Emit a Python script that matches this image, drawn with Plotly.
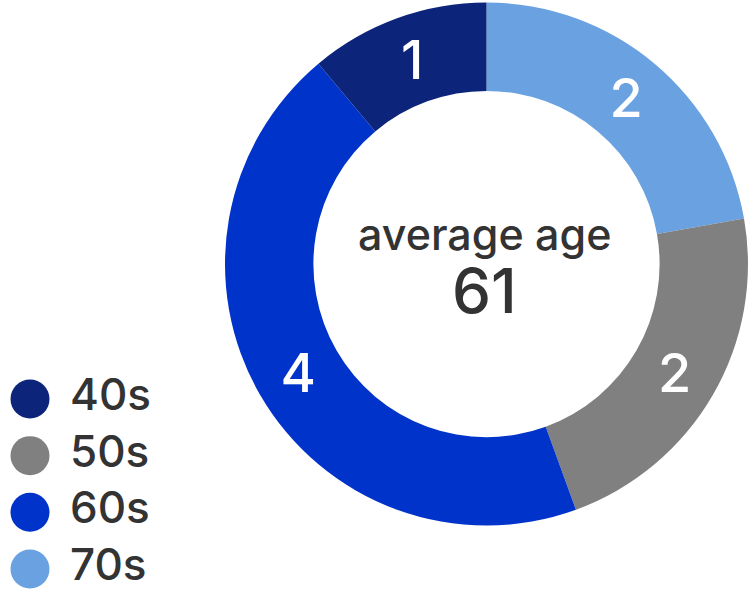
import plotly.graph_objects as go

# age groups as shown in the legend (top to bottom)
age_groups = ["40s", "50s", "60s", "70s"]
members = [1, 2, 4, 2]
group_colors = ["#0c247a", "#808080", "#0033c9", "#69a1e1"]

# slices are drawn clockwise from 12 o'clock in this order
slice_order = ["70s", "50s", "60s", "40s"]

average_label = "average age"
average_age = 61

TEXT = "#333333"
FONT = "Inter"

lookup = {g: (v, c) for g, v, c in zip(age_groups, members, group_colors)}

fig = go.Figure()

fig.add_trace(go.Pie(
    labels=slice_order,
    values=[lookup[g][0] for g in slice_order],
    marker=dict(colors=[lookup[g][1] for g in slice_order], line=dict(width=0)),
    hole=0.662,
    sort=False,
    direction="clockwise",
    rotation=0,
    textinfo="value",
    textposition="inside",
    insidetextorientation="horizontal",
    textfont=dict(family=FONT, size=54, color="white", weight=500),
    domain=dict(x=[0.2996, 0.996], y=[0.1256, 0.9958]),
    showlegend=False,
    hoverinfo="label+value",
))

# legend drawn as big dots on a hidden axis
fig.add_trace(go.Scatter(
    x=[0] * len(age_groups),
    y=age_groups,
    mode="markers",
    marker=dict(size=39, color=group_colors, line=dict(width=0)),
    showlegend=False,
    hoverinfo="skip",
))
fig.add_trace(go.Scatter(
    x=[40] * len(age_groups),
    y=age_groups,
    mode="text",
    text=age_groups,
    textposition="middle right",
    textfont=dict(family=FONT, size=44, color=TEXT, weight=500),
    showlegend=False,
    hoverinfo="skip",
))

fig.add_annotation(
    x=0.6445, y=0.6106, xref="paper", yref="paper",
    text=average_label, showarrow=False,
    xanchor="center", yanchor="middle",
    font=dict(family=FONT, size=43, color=TEXT, weight=500),
)
fig.add_annotation(
    x=0.6445, y=0.516, xref="paper", yref="paper",
    text=str(average_age), showarrow=False,
    xanchor="center", yanchor="middle",
    font=dict(family=FONT, size=62, color=TEXT, weight=500),
)

fig.update_layout(
    width=751, height=601,
    margin=dict(l=0, r=0, t=0, b=0),
    paper_bgcolor="white",
    plot_bgcolor="rgba(0,0,0,0)",
    xaxis=dict(visible=False, range=[-30, 721], domain=[0, 1], fixedrange=True),
    yaxis=dict(visible=False, type="category", range=[3.565, -7.04],
               domain=[0, 1], fixedrange=True),
)

# drop the browser's default 8px body margin so the figure sits at 0,0
fig.write_html("out.html", config={"displayModeBar": False},
               post_script="document.body.style.margin = '0px';")
